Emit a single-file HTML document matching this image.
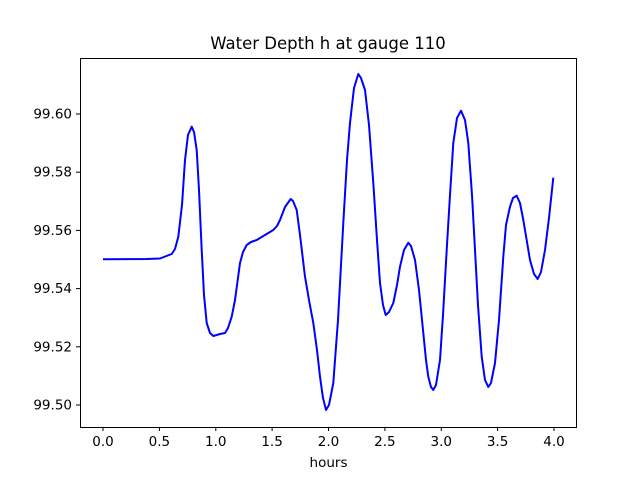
<!DOCTYPE html><html><head><style>body{margin:0;background:#fff}svg{display:block}text{font-family:"DejaVu Sans","Liberation Sans",sans-serif;fill:#000}</style></head><body>
<svg width="640" height="480" viewBox="0 0 640 480">
<rect width="640" height="480" fill="#fff"/>
<text x="328" y="49" font-size="16.5" text-anchor="middle">Water Depth h at gauge 110</text>
<polyline fill="none" stroke="#0000ff" stroke-width="2" stroke-linejoin="round" points="103,259.3 146.7,259 160,258.5 171.7,254 175,249 178.3,236.7 182,205 185,160 188,135 191.7,126.7 194,132 196.7,150 199,190 201.7,250 204,295 206.7,323 210,333 213.3,336 220,334 225,333 228,328 231.7,316.7 235,300 240,263 243,252 246.7,245 251,242 256.7,240 265,235 273.3,230 277,226 280,220 285,207 290.7,199 293,201 296.7,210 300,235 305,276.7 309,300 313.3,323 317,350 320,376.7 323,398 326,410 329,405 333.3,383 338,320 343.3,223 347,160 350,123 354,88 358.3,74 361,78 365,90 369,125 373.3,183 377,240 380,283 383,305 385.7,315 389,312 393.3,303 397,285 400,266.7 404,250 408.3,242.7 411,246 415,260 419,290 423.3,333 426,360 428.3,376.7 431,387 433.3,390 436,385 440,360 443,315 446.7,250 450,195 453.3,143 457,118 461,110.7 465,120 468.3,143 472,195 475,250 478,305 481.7,356.7 485,380 488.3,387 491,383 495,363 499,320 503.3,256.7 506,225 510,206.7 513,198 516.7,195.7 520,203 523.3,220 527,242 530,260 534,274 537.7,279 541,272 545,250 549,218 553.3,177.7"/>
<rect x="80.5" y="58.5" width="496" height="369" fill="none" stroke="#000" stroke-width="1"/>
<g stroke="#000" stroke-width="1">
<line x1="103" y1="427" x2="103" y2="431"/><line x1="159.4" y1="427" x2="159.4" y2="431"/><line x1="215.8" y1="427" x2="215.8" y2="431"/><line x1="272.1" y1="427" x2="272.1" y2="431"/><line x1="328.5" y1="427" x2="328.5" y2="431"/><line x1="384.9" y1="427" x2="384.9" y2="431"/><line x1="441.3" y1="427" x2="441.3" y2="431"/><line x1="497.6" y1="427" x2="497.6" y2="431"/><line x1="554" y1="427" x2="554" y2="431"/>
<line x1="76" y1="405" x2="80" y2="405"/><line x1="76" y1="346.8" x2="80" y2="346.8"/><line x1="76" y1="288.6" x2="80" y2="288.6"/><line x1="76" y1="230.4" x2="80" y2="230.4"/><line x1="76" y1="172.2" x2="80" y2="172.2"/><line x1="76" y1="114" x2="80" y2="114"/>
</g>
<g font-size="13.5" text-anchor="middle">
<text x="103" y="446">0.0</text><text x="159.4" y="446">0.5</text><text x="215.8" y="446">1.0</text><text x="272.1" y="446">1.5</text><text x="328.5" y="446">2.0</text><text x="384.9" y="446">2.5</text><text x="441.3" y="446">3.0</text><text x="497.6" y="446">3.5</text><text x="554" y="446">4.0</text>
<text x="328.5" y="467">hours</text>
</g>
<g font-size="13.5" text-anchor="end">
<text x="72" y="409.5">99.50</text><text x="72" y="351.3">99.52</text><text x="72" y="293.1">99.54</text><text x="72" y="234.9">99.56</text><text x="72" y="176.7">99.58</text><text x="72" y="118.5">99.60</text>
</g>
</svg></body></html>
